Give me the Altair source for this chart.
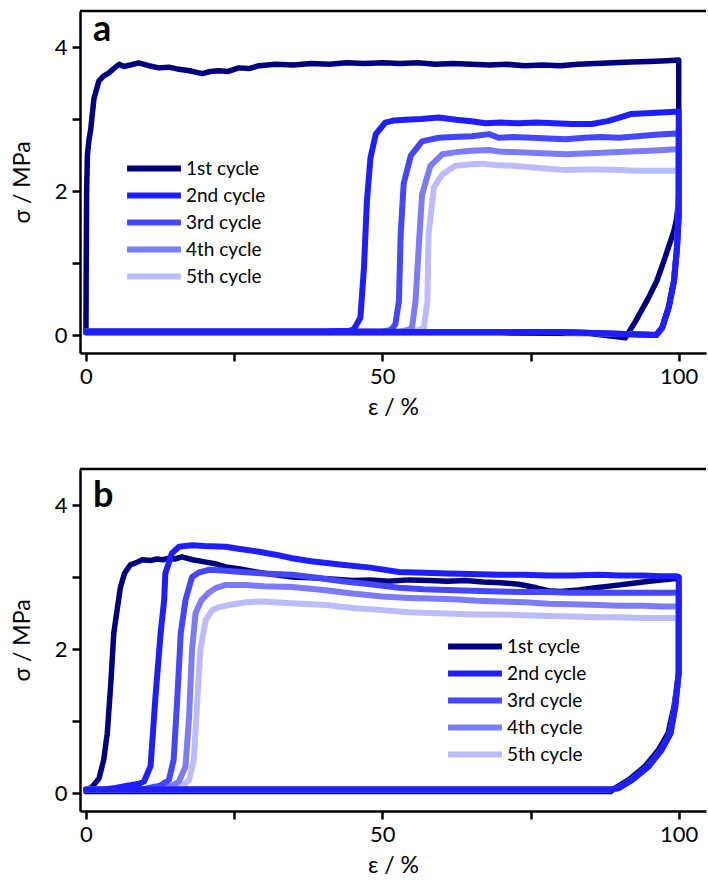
import altair as alt
import pandas as pd

CYCLES = ["1st cycle", "2nd cycle", "3rd cycle", "4th cycle", "5th cycle"]
COLORS = ["#00007f", "#1e1eff", "#4646fa", "#7c7cfa", "#bcbcfc"]
DRAW_ORDER = ["1st cycle", "5th cycle", "4th cycle", "3rd cycle", "2nd cycle"]
X_TICKS = [0, 25, 50, 75, 100]
Y_TICKS = [0, 1, 2, 3, 4]

# ---------------- panel a ----------------
A1_X = [0.0, 0.05, 0.12, 0.25, 0.5, 0.8, 1.35, 2.2, 3.0, 3.9, 4.4, 5.0, 5.6, 6.4, 7.5, 8.9, 10.6, 12.3,
        14.0, 15.7, 17.5, 19.6, 21.0, 22.4, 24.0, 25.8, 27.5, 29.2, 32.0, 35.0, 38.0, 41.0, 44.0, 47.0,
        50.0, 53.0, 56.0, 59.0, 62.0, 65.0, 68.0, 71.0, 74.0, 77.0, 80.0, 83.0, 86.0, 89.0, 92.0, 95.0,
        98.0, 100.0, 100.0, 99.9, 99.6, 99.2, 98.6, 97.5, 96.3, 94.6, 92.7, 91.0, 85.0, 70.0, 50.0, 30.0,
        10.0, 0.0]
A1_Y = [0.05, 1.0, 2.0, 2.5, 2.7, 2.85, 3.28, 3.53, 3.6, 3.64, 3.68, 3.72, 3.76, 3.73, 3.75, 3.78, 3.74,
        3.71, 3.72, 3.69, 3.67, 3.63, 3.66, 3.67, 3.66, 3.71, 3.70, 3.74, 3.76, 3.75, 3.77, 3.76, 3.78,
        3.77, 3.78, 3.77, 3.78, 3.76, 3.77, 3.76, 3.75, 3.76, 3.74, 3.75, 3.74, 3.76, 3.77, 3.78, 3.79,
        3.80, 3.81, 3.82, 2.0, 1.8, 1.6, 1.45, 1.3, 1.03, 0.75, 0.47, 0.19, -0.04, 0.02, 0.03, 0.03, 0.03,
        0.03, 0.03]

A2_X = [0.0, 20.0, 40.0, 44.5, 45.2, 46.3, 46.9, 47.4, 48.0, 48.9, 50.5, 52.0, 53.9, 56.5, 59.5, 62.5,
        65.0, 67.4, 70.0, 73.0, 76.0, 79.0, 82.0, 85.3, 88.0, 90.0, 92.0, 94.5, 97.0, 99.4, 100.0]
A2_Y = [0.05, 0.05, 0.05, 0.06, 0.08, 0.24, 0.93, 1.86, 2.46, 2.79, 2.95, 2.98, 2.99, 3.0, 3.02, 2.99,
        2.97, 2.94, 2.95, 2.94, 2.95, 2.94, 2.93, 2.93, 2.97, 3.02, 3.07, 3.08, 3.09, 3.1, 3.1]

A3_X = [0.0, 30.0, 50.0, 51.5, 52.2, 52.8, 53.1, 53.6, 54.8, 56.7, 59.5, 62.0, 65.1, 68.0, 69.6, 72.0,
        75.2, 78.0, 81.0, 84.0, 87.0, 90.0, 93.0, 96.0, 99.5, 100.0]
A3_Y = [0.05, 0.05, 0.05, 0.07, 0.15, 0.47, 1.4, 2.1, 2.49, 2.69, 2.74, 2.75, 2.76, 2.79, 2.74, 2.75,
        2.74, 2.73, 2.72, 2.74, 2.75, 2.74, 2.76, 2.78, 2.8, 2.8]

A4_X = [0.0, 30.0, 53.0, 54.3, 55.0, 55.6, 56.2, 56.7, 58.1, 60.1, 62.5, 65.1, 68.0, 69.6, 72.0, 75.0,
        78.0, 81.0, 84.0, 87.0, 90.0, 92.0, 95.0, 97.5, 99.5, 100.0]
A4_Y = [0.05, 0.05, 0.05, 0.07, 0.1, 0.47, 1.3, 1.95, 2.35, 2.51, 2.54, 2.56, 2.57, 2.55, 2.54, 2.53,
        2.52, 2.51, 2.52, 2.53, 2.54, 2.55, 2.56, 2.57, 2.58, 2.58]

A5_X = [0.0, 30.0, 55.0, 56.3, 57.0, 57.6, 57.8, 58.7, 60.1, 62.3, 65.1, 66.8, 69.0, 72.0, 75.0, 78.0,
        81.0, 84.0, 87.0, 90.0, 93.0, 96.0, 99.5, 100.0]
A5_Y = [0.05, 0.05, 0.05, 0.07, 0.1, 0.47, 1.4, 2.05, 2.23, 2.35, 2.37, 2.38, 2.36, 2.35, 2.33, 2.31,
        2.29, 2.3, 2.3, 2.29, 2.28, 2.28, 2.28, 2.28]

# unloading + return path shared by cycles 2-5 in panel a
UA_X = [100.0, 99.7, 99.2, 98.3, 97.2, 96.2, 80.0, 60.0, 40.0, 20.0, 0.0]
UA_Y = [1.68, 1.2, 0.75, 0.38, 0.1, 0.0, 0.04, 0.04, 0.04, 0.04, 0.04]

# ---------------- panel b ----------------
B1_X = [0.0, 1.0, 2.2, 3.0, 3.6, 4.2, 4.7, 5.5, 5.8, 6.5, 7.5, 8.5, 9.5, 11.0, 12.0, 13.0, 14.0, 15.0,
        16.2, 18.0, 20.0, 22.0, 23.6, 26.0, 28.0, 31.0, 34.8, 38.0, 42.0, 45.0, 48.0, 51.0, 54.5, 58.0,
        61.0, 64.0, 67.0, 70.0, 73.0, 76.0, 78.0, 80.0, 83.1, 86.0, 89.0, 92.0, 95.0, 97.5, 99.5, 100.0,
        100.0, 99.2, 98.2, 96.6, 94.3, 91.5, 89.3, 88.5, 70.0, 50.0, 30.0, 10.0, 0.0]
B1_Y = [0.04, 0.08, 0.2, 0.46, 0.83, 1.53, 2.22, 2.68, 2.85, 3.05, 3.17, 3.2, 3.24, 3.23, 3.25, 3.24,
        3.26, 3.25, 3.28, 3.24, 3.21, 3.18, 3.14, 3.11, 3.08, 3.04, 3.0, 2.99, 2.97, 2.95, 2.96, 2.94,
        2.96, 2.95, 2.94, 2.95, 2.93, 2.92, 2.9, 2.85, 2.81, 2.8, 2.82, 2.85, 2.88, 2.91, 2.94, 2.96,
        2.98, 3.0, 1.67, 1.2, 0.83, 0.6, 0.37, 0.18, 0.07, 0.02, 0.02, 0.02, 0.02, 0.02, 0.02]

B2_X = [0.0, 3.0, 5.0, 7.0, 9.0, 9.8, 10.9, 11.7, 12.6, 13.2, 13.4, 14.5, 15.7, 17.9, 20.0, 23.6, 26.0,
        29.2, 32.0, 34.8, 38.0, 43.2, 48.0, 52.8, 57.0, 61.0, 65.0, 69.6, 74.0, 78.0, 82.0, 86.5, 90.0,
        94.0, 97.0, 99.5, 100.0]
B2_Y = [0.05, 0.05, 0.07, 0.1, 0.13, 0.16, 0.37, 1.3, 2.22, 2.68, 3.05, 3.33, 3.42, 3.44, 3.43, 3.42,
        3.39, 3.35, 3.31, 3.26, 3.22, 3.17, 3.13, 3.07, 3.06, 3.05, 3.04, 3.03, 3.03, 3.02, 3.02, 3.03,
        3.02, 3.02, 3.01, 3.01, 3.0]

B3_X = [0.0, 5.0, 10.0, 12.5, 14.0, 14.8, 15.4, 16.0, 16.8, 17.9, 19.0, 20.7, 23.0, 26.3, 30.0, 34.8,
        39.0, 43.2, 48.0, 52.8, 57.0, 61.0, 65.0, 69.6, 74.0, 78.0, 82.0, 86.5, 90.0, 94.0, 97.0, 99.5,
        100.0]
B3_Y = [0.05, 0.05, 0.06, 0.1, 0.18, 0.46, 1.3, 2.22, 2.68, 3.0, 3.06, 3.1, 3.09, 3.07, 3.05, 3.03,
        2.99, 2.94, 2.9, 2.85, 2.83, 2.82, 2.81, 2.8, 2.79, 2.79, 2.78, 2.78, 2.78, 2.78, 2.78, 2.78, 2.78]

B4_X = [0.0, 5.0, 12.0, 14.5, 15.7, 16.8, 17.4, 17.9, 18.5, 19.5, 20.7, 22.0, 23.6, 27.0, 30.0, 34.8,
        40.0, 45.0, 50.0, 54.5, 58.0, 62.0, 66.0, 69.6, 74.0, 78.0, 82.0, 86.5, 90.0, 94.0, 97.0, 99.5,
        100.0]
B4_Y = [0.05, 0.05, 0.06, 0.1, 0.16, 0.37, 1.06, 1.99, 2.5, 2.68, 2.78, 2.85, 2.89, 2.89, 2.87, 2.86,
        2.82, 2.77, 2.73, 2.71, 2.7, 2.69, 2.67, 2.66, 2.65, 2.63, 2.62, 2.61, 2.6, 2.6, 2.59, 2.59, 2.59]

B5_X = [0.0, 5.0, 14.0, 16.3, 17.4, 18.2, 18.8, 19.3, 20.2, 21.3, 22.4, 24.1, 27.0, 29.7, 34.0, 40.5,
        45.0, 50.0, 54.5, 58.0, 62.0, 66.0, 69.6, 74.0, 78.0, 82.0, 86.5, 90.0, 94.0, 97.0, 99.5, 100.0]
B5_Y = [0.05, 0.05, 0.06, 0.1, 0.18, 0.46, 1.3, 1.99, 2.4, 2.54, 2.58, 2.61, 2.65, 2.66, 2.64, 2.61,
        2.57, 2.54, 2.51, 2.5, 2.49, 2.48, 2.48, 2.47, 2.46, 2.45, 2.44, 2.44, 2.43, 2.43, 2.43, 2.43]

# unloading + return path shared by cycles 2-5 in panel b
UB_X = [100.0, 99.4, 98.6, 97.1, 94.9, 92.1, 89.9, 88.5, 70.0, 50.0, 30.0, 10.0, 0.0]
UB_Y = [1.67, 1.2, 0.83, 0.6, 0.37, 0.18, 0.07, 0.05, 0.05, 0.05, 0.05, 0.05, 0.05]

FONT = "Lato"
W, H = 626, 342


def build_df(curves):
    rows = []
    for name, (xs, ys) in zip(CYCLES, curves):
        for i, (a, b) in enumerate(zip(xs, ys)):
            rows.append({"cycle": name, "i": i, "strain": a, "stress": b})
    return pd.DataFrame(rows)


df_a = build_df([
    (A1_X, A1_Y),
    (A2_X + UA_X, A2_Y + UA_Y),
    (A3_X + UA_X, A3_Y + UA_Y),
    (A4_X + UA_X, A4_Y + UA_Y),
    (A5_X + UA_X, A5_Y + UA_Y),
])
df_b = build_df([
    (B1_X, B1_Y),
    (B2_X + UB_X, B2_Y + UB_Y),
    (B3_X + UB_X, B3_Y + UB_Y),
    (B4_X + UB_X, B4_Y + UB_Y),
    (B5_X + UB_X, B5_Y + UB_Y),
])


def panel(df, letter, letter_y, lx, ly):
    xenc = alt.X(
        "strain:Q",
        scale=alt.Scale(domain=[-1, 104.6], nice=False, zero=False),
        axis=alt.Axis(values=X_TICKS, labelExpr="datum.value % 50 == 0 ? datum.label : ''",
                      title="ε / %", grid=False, titlePadding=9),
    )
    yenc = alt.Y(
        "stress:Q",
        scale=alt.Scale(domain=[-0.25, 4.5], nice=False, zero=False),
        axis=alt.Axis(values=Y_TICKS, labelExpr="datum.value % 2 == 0 ? datum.label : ''",
                      title="σ / MPa", grid=False, titlePadding=20),
    )
    color = alt.Color(
        "cycle:N",
        scale=alt.Scale(domain=CYCLES, range=COLORS),
        legend=alt.Legend(orient="none", legendX=lx, legendY=ly, title=None,
                          symbolType="stroke", symbolSize=2900, symbolStrokeWidth=6,
                          labelFontSize=19, labelFont=FONT, labelColor="black",
                          labelOffset=2, clipHeight=27, rowPadding=0, padding=0),
    )
    layers = []
    for c in DRAW_ORDER:
        layers.append(
            alt.Chart(df[df["cycle"] == c]).mark_line(
                strokeWidth=6 if c != "1st cycle" else 5.5, strokeJoin="round", strokeCap="round"
            ).encode(x=xenc, y=yenc, color=color, order="i:Q")
        )
    frame_top = alt.Chart(alt.Data(values=[{}])).mark_rule(color="black", strokeWidth=2.5).encode(
        x=alt.value(0), x2=alt.value(W), y=alt.value(0)
    )
    label = alt.Chart(alt.Data(values=[{}])).mark_text(
        font=FONT, fontSize=36, fontWeight="bold", align="left", baseline="alphabetic", color="black"
    ).encode(x=alt.value(13), y=alt.value(letter_y), text=alt.value(letter))
    return alt.layer(*layers, frame_top, label).properties(width=W, height=H)


pa = panel(df_a, "a", 30, 44, 144)
pb = panel(df_b, "b", 38, 365, 164)

chart = (
    alt.vconcat(pa, pb, spacing=48)
    .resolve_scale(color="independent")
    .resolve_legend(color="independent")
    .properties(padding={"left": 11, "top": 9, "right": 0, "bottom": 0})
    .configure_view(stroke=None)
    .configure_axis(
        domainColor="black", domainWidth=2.5, tickColor="black", tickWidth=2.5, tickSize=8,
        labelFont=FONT, labelFontSize=22, labelColor="black", labelPadding=5,
        titleFont=FONT, titleFontSize=23, titleFontWeight="normal", titleColor="black",
    )
)

chart.save("out.html", embed_options={"renderer": "svg", "actions": False})
